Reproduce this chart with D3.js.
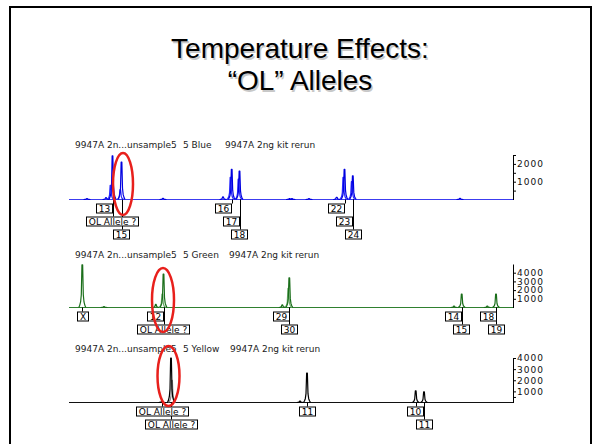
<!DOCTYPE html>
<html>
<head>
<meta charset="utf-8">
<script src="https://cdn.jsdelivr.net/npm/d3@7"></script>
<style>
body { margin: 0; background: #fff; }
svg { display: block; }
</style>
</head>
<body>
<svg width="600" height="444"></svg>
<script>
// title lines
var titleLines = ['Temperature Effects:', '\u201cOL\u201d Alleles']

// peaks: [scan position, height (RFU), 's' = shoulder / second trace]
var bluePeaks = [
    [18, 50], [37, 100], [41.5, 800, 's'], [43.5, 2450], [51.3, 550, 's'], [52.5, 2100],
    [94, 60], [154, 150], [161.5, 1250, 's'], [162.7, 1700], [169.5, 1150, 's'], [170.5, 1600],
    [220.5, 50], [223, 50], [240, 50], [267.7, 120], [274.3, 1250, 's'], [275.5, 1700],
    [282.7, 1000, 's'], [283.8, 1330], [391, 60]
]
var greenPeaks = [
    [13.3, 4900], [35, 100], [86.8, 350], [93.3, 1550, 's'], [94.5, 3850],
    [213.3, 300], [219.3, 2200, 's'], [220.3, 3400], [385, 150], [392.7, 1550],
    [418.3, 150], [427, 1550]
]
var yellowPeaks = [
    [92.7, 80], [102, 4000], [103, 2000, 's'], [231, 130], [238, 2640],
    [346.7, 1050], [355, 960]
]

// allele calls: [peak position, text, row, align]
var blueLabels = [
    [43.5, '13', 0, 'r'], [43.5, 'OL Allele ?', 1, 'c'], [52.5, '15', 2, 'c'],
    [162.7, '16', 0, 'r'], [170.5, '17', 1, 'r'], [170.5, '18', 2, 'c'],
    [275.5, '22', 0, 'r'], [283.8, '23', 1, 'r'], [283.8, '24', 2, 'c']
]
var greenLabels = [
    [13.3, 'X', 0, 'c'], [94.5, '12', 0, 'r'], [94.5, 'OL Allele ?', 1, 'c'],
    [220.3, '29', 0, 'r'], [220.3, '30', 1, 'c'],
    [392.7, '14', 0, 'r'], [392.7, '15', 1, 'c'],
    [427, '18', 0, 'r'], [427, '19', 1, 'c']
]
var yellowLabels = [
    [92.7, 'OL Allele ?', 0, 'c'], [102, 'OL Allele ?', 1, 'c'],
    [238, '11', 0, 'c'], [346.7, '10', 0, 'c'], [355, '11', 1, 'c']
]

var blueHeader = ['9947A 2n...unsample5', '5 Blue', '9947A 2ng kit rerun']
var greenHeader = ['9947A 2n...unsample5', '5 Green', '9947A 2ng kit rerun']
var yellowHeader = ['9947A 2n...unsample5', '5 Yellow', '9947A 2ng kit rerun']

var blueTicks = [500, 1000, 1500, 2000, 2500]
var greenTicks = [1000, 2000, 3000, 4000]
var yellowTicks = [500, 1000, 2000, 3000, 4000]

// circled peaks (OL allele) per panel
var circled = [52.5, 94.5, 102]

var svg = d3.select('svg')
var small = 'DejaVu Sans, sans-serif'

// slide frame
svg.append('rect')
    .attr('x', 10)
    .attr('y', 7)
    .attr('width', 581)
    .attr('height', 470)
    .attr('fill', 'none')
    .attr('stroke', '#000')
    .attr('stroke-width', 2)

// title with a soft shadow
titleLines.forEach(function (t, i) {
    svg.append('text')
        .text(t)
        .attr('x', 301.5)
        .attr('y', 59.5 + i * 32)
        .attr('text-anchor', 'middle')
        .style('font-family', 'Liberation Sans, Arial, sans-serif')
        .style('font-size', '28px')
        .attr('fill', '#c8c8c8')
    svg.append('text')
        .text(t)
        .attr('x', 300)
        .attr('y', 58 + i * 32)
        .attr('text-anchor', 'middle')
        .style('font-family', 'Liberation Sans, Arial, sans-serif')
        .style('font-size', '28px')
        .attr('fill', '#000')
})

var x = d3.scaleLinear()
    .domain([0, 444])
    .range([69, 513])

var panels = [
    { peaks: bluePeaks, labels: blueLabels, header: blueHeader, ticks: blueTicks, max: 2500,
      base: 199.5, top: 155, headY: 148, headX: [75, 183, 225],
      color: '#0000e0', second: '#2a2aff', line: '#3c3cf0',
      ell: { dx: 1.5, dy: -15.5, rx: 10, ry: 31 } },
    { peaks: greenPeaks, labels: greenLabels, header: greenHeader, ticks: greenTicks, max: 5000,
      base: 307.5, top: 264, headY: 258, headX: [75, 183, 229],
      color: '#1a6e1a', second: '#6aaa6a', line: '#2f802f',
      ell: { dx: -0.5, dy: -7.5, rx: 11, ry: 32 } },
    { peaks: yellowPeaks, labels: yellowLabels, header: yellowHeader, ticks: yellowTicks, max: 4000,
      base: 402.5, top: 358, headY: 352, headX: [75, 183, 230],
      color: '#000', second: '#8a8a8a', line: '#111',
      ell: { dx: -2.5, dy: -26.5, rx: 11, ry: 30 } }
]

// outline of one electropherogram peak: [dx in px, share of height]
var shape = [[-3.5, 0], [-2.6, 0.05], [-1.7, 0.13], [-1, 0.3], [-0.35, 1], [0.35, 1],
    [1, 0.3], [1.7, 0.13], [2.6, 0.05], [3.5, 0]]

panels.forEach(function (p, k) {
    var y = d3.scaleLinear()
        .domain([0, p.max])
        .range([p.base, p.top])

    var g = svg.append('g')

    // header
    g.selectAll('text.head')
        .data(p.header)
        .enter()
        .append('text')
        .attr('class', 'head')
        .text(d => d)
        .attr('x', (d, i) => p.headX[i])
        .attr('y', p.headY)
        .style('font-family', small)
        .style('font-size', '9px')
        .attr('fill', '#222')

    // baseline
    g.append('line')
        .attr('x1', x.range()[0])
        .attr('x2', x.range()[1])
        .attr('y1', p.base)
        .attr('y2', p.base)
        .attr('stroke', p.line)
        .attr('stroke-width', 1.2)

    var line = d3.line()
    var order = p.peaks.slice().sort((a, b) => (a[2] ? 0 : 1) - (b[2] ? 0 : 1))
    g.selectAll('path.peak')
        .data(order)
        .enter()
        .append('path')
        .attr('class', 'peak')
        .attr('d', d => line(shape.map(s => [x(d[0]) + s[0], y(d[1] * s[1])])))
        .attr('fill', 'none')
        .attr('stroke', d => d[2] ? p.second : p.color)
        .attr('stroke-width', 1.2)
        .attr('stroke-linejoin', 'round')

    // y axis on the right
    var axis = d3.axisRight(y)
        .tickValues(p.ticks)
        .tickSize(3)
        .tickSizeOuter(0)
        .tickFormat(d => d % 1000 ? '' : d)
    var ag = g.append('g')
        .attr('transform', 'translate(' + x.range()[1] + ',0)')
        .call(axis)
    ag.select('.domain').attr('stroke', '#000')
    ag.selectAll('.tick line').attr('stroke', '#000')
    ag.selectAll('.tick text')
        .attr('x', 4)
        .style('font-family', small)
        .style('font-size', '9px')
        .style('letter-spacing', '1px')
        .attr('fill', '#111')

    // allele call boxes: connector lines first, then boxes on top
    var rowTop = r => p.base + 4 + r * 13
    g.selectAll('line.call')
        .data(p.labels)
        .enter()
        .append('line')
        .attr('class', 'call')
        .attr('x1', d => Math.round(x(d[0])) + 0.5)
        .attr('x2', d => Math.round(x(d[0])) + 0.5)
        .attr('y1', p.base)
        .attr('y2', d => rowTop(d[2]))
        .attr('stroke', '#000')

    var calls = g.selectAll('g.call')
        .data(p.labels)
        .enter()
        .append('g')
        .attr('class', 'call')
    var rects = calls.append('rect')
    var texts = calls.append('text')
        .text(d => d[1])
        .style('font-family', small)
        .style('font-size', '9px')
        .attr('fill', '#000')
    texts.each(function (d) {
        var w = this.getComputedTextLength() + 5
        var cx = x(d[0])
        var left = d[3] === 'r' ? cx - w : cx - w / 2
        d.box = [Math.round(left) + 0.5, rowTop(d[2]) + 0.5, Math.round(w)]
    })
    rects
        .attr('x', d => d.box[0])
        .attr('y', d => d.box[1])
        .attr('width', d => d.box[2])
        .attr('height', 9)
        .attr('fill', '#fff')
        .attr('stroke', '#000')
    texts
        .attr('x', d => d.box[0] + d.box[2] / 2)
        .attr('y', d => d.box[1] + 7.8)
        .attr('text-anchor', 'middle')

    // red ring round the OL allele
    g.append('ellipse')
        .attr('cx', x(circled[k]) + p.ell.dx)
        .attr('cy', p.base + p.ell.dy)
        .attr('rx', p.ell.rx)
        .attr('ry', p.ell.ry)
        .attr('fill', 'none')
        .attr('stroke', '#e8201c')
        .attr('stroke-width', 2.5)
})
</script>
</body>
</html>
